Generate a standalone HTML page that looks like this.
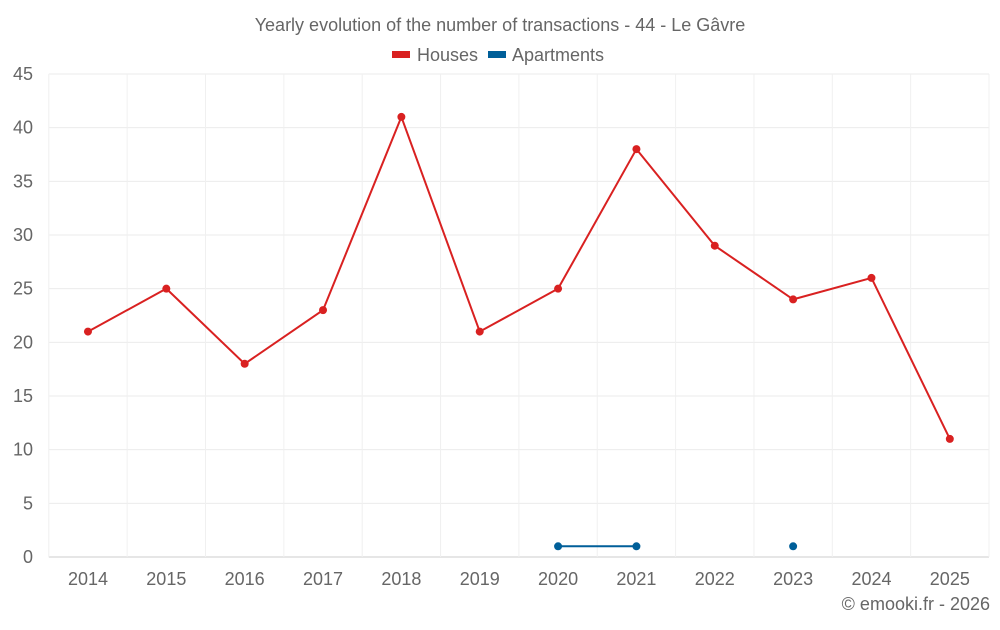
<!DOCTYPE html>
<html><head><meta charset="utf-8"><style>
body{margin:0;background:#fff;}
svg text{font-family:"Liberation Sans",sans-serif;fill:#666;}
</style></head><body>
<svg id="chart" width="1000" height="625" xmlns="http://www.w3.org/2000/svg">
<text x="500" y="31" text-anchor="middle" font-size="18">Yearly evolution of the number of transactions - 44 - Le Gâvre</text>
<g>
<rect x="392" y="51" width="18" height="7" fill="#d92121"/>
<text x="417" y="61" font-size="18">Houses</text>
<rect x="488" y="51" width="18" height="7" fill="#005f99"/>
<text x="512" y="61" font-size="18">Apartments</text>
</g>
<g id="grid"></g><g id="axes"></g><g id="series"></g>
<text x="990" y="610" text-anchor="end" font-size="18">© emooki.fr - 2026</text>
</svg>
<script>
const categories=["2014","2015","2016","2017","2018","2019","2020","2021","2022","2023","2024","2025"];
const houses=[21,25,18,23,41,21,25,38,29,24,26,11];
const apartments=[null,null,null,null,null,null,1,1,null,1,null,null];
const yTicks=[0,5,10,15,20,25,30,35,40,45];
const L=48.8,R=989,T=74,B=557,yMax=45;
const bw=(R-L)/categories.length;
const x=i=>L+bw*(i+0.5);
const y=v=>B-(v/yMax)*(B-T);
const NS="http://www.w3.org/2000/svg";
function mk(tag,attrs,parent){const e=document.createElementNS(NS,tag);for(const k in attrs)e.setAttribute(k,attrs[k]);parent.appendChild(e);return e;}
const grid=document.getElementById('grid'),axes=document.getElementById('axes'),ser=document.getElementById('series');
yTicks.forEach(t=>{
 const l=mk('line',{x1:L,x2:R,y1:y(t),y2:y(t),stroke:t===0?'#ccc':'#ebebeb','stroke-width':1},grid);
 
 
 const tx=mk('text',{x:33,y:y(t)+6,'text-anchor':'end','font-size':18},axes);
 tx.textContent=t;
 
 
});
for(let i=0;i<=categories.length;i++){
 const l=mk('line',{x1:L+bw*i,x2:L+bw*i,y1:T,y2:B,stroke:'#f0f0f0','stroke-width':1},grid);
 
 
}
categories.forEach((c,i)=>{
 const tx=mk('text',{x:x(i),y:585,'text-anchor':'middle','font-size':18},axes);
 tx.textContent=c;
 
 
});
function drawSeries(vals,color,name){
 let seg=[];const segs=[];
 vals.forEach((v,i)=>{if(v==null){if(seg.length)segs.push(seg);seg=[];}else seg.push([x(i),y(v)]);});
 if(seg.length)segs.push(seg);
 segs.forEach(s=>{if(s.length>1){const p=mk('polyline',{points:s.map(q=>q.join(',')).join(' '),fill:'none',stroke:color,'stroke-width':2},ser);
  
  }});
 vals.forEach((v,i)=>{if(v==null)return;const c=mk('circle',{cx:x(i),cy:y(v),r:4,fill:color},ser);
  
  });
}
drawSeries(houses,'#d92121','houses');
drawSeries(apartments,'#005f99','apartments');
</script>
</body></html>
